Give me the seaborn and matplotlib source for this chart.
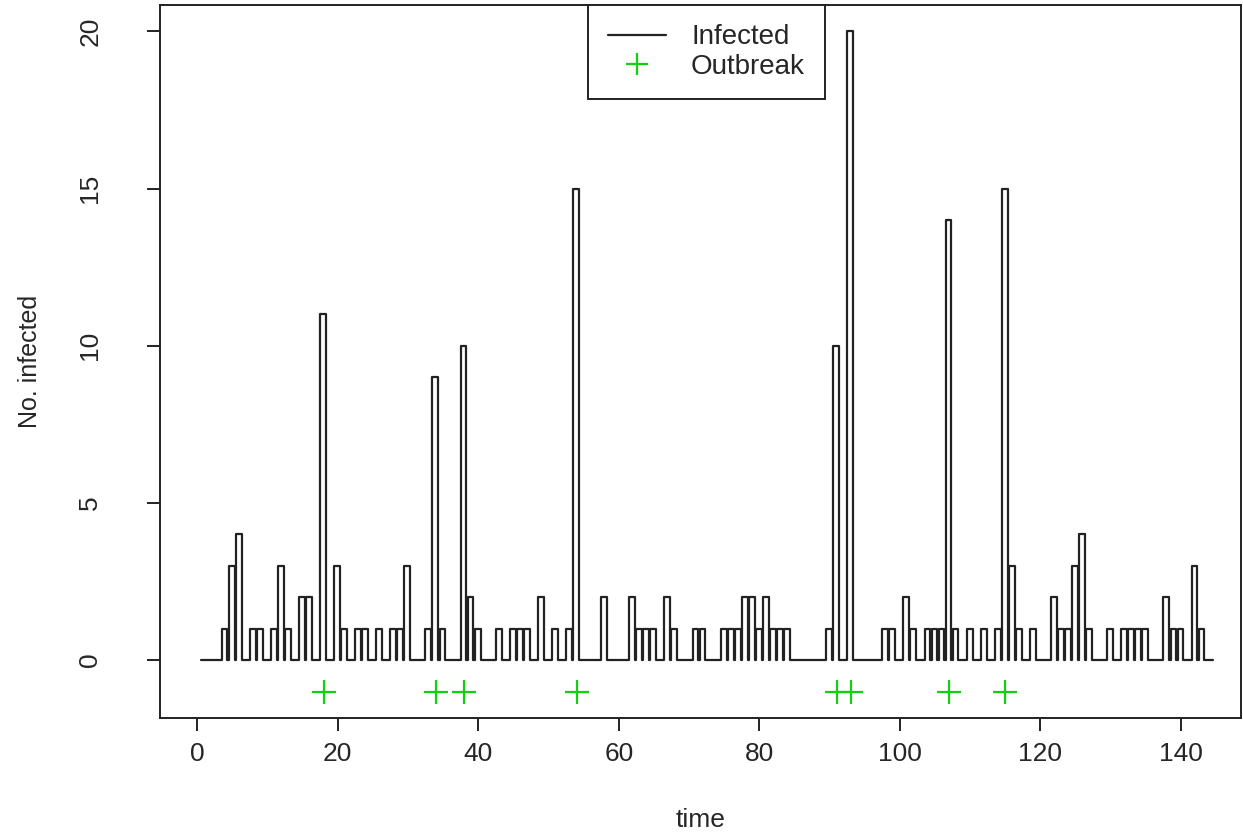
import numpy as np
import pandas as pd
import matplotlib
matplotlib.use("Agg")
import matplotlib.pyplot as plt
import seaborn as sns
from matplotlib.lines import Line2D

# ---- data ----
days = list(range(1, 145))
infected = [0, 0, 0, 1, 3, 4, 0, 1, 1, 0,
            1, 3, 1, 0, 2, 2, 0, 11, 0, 3,
            1, 0, 1, 1, 0, 1, 0, 1, 1, 3,
            0, 0, 1, 9, 1, 0, 0, 10, 2, 1,
            0, 0, 1, 0, 1, 1, 1, 0, 2, 0,
            1, 0, 1, 15, 0, 0, 0, 2, 0, 0,
            0, 2, 1, 1, 1, 0, 2, 1, 0, 0,
            1, 1, 0, 0, 1, 1, 1, 2, 2, 1,
            2, 1, 1, 1, 0, 0, 0, 0, 0, 1,
            10, 0, 20, 0, 0, 0, 0, 1, 1, 0,
            2, 1, 0, 1, 1, 1, 14, 1, 0, 1,
            0, 1, 0, 1, 15, 3, 1, 0, 1, 0,
            0, 2, 1, 1, 3, 4, 1, 0, 0, 1,
            0, 1, 1, 1, 1, 0, 0, 2, 1, 1,
            0, 3, 1, 0]
outbreak_days = [18, 34, 38, 54, 91, 93, 107, 115]
outbreak_level = [-1] * len(outbreak_days)
x_ticks = [0, 20, 40, 60, 80, 100, 120, 140]
y_ticks = [0, 5, 10, 15, 20]

# ---- style ----
GAP = 0.17
LINE_COLOR = "#222222"
GREEN = "#10d010"

# step path: each day's count drawn over its unit cell, dropping briefly to 0 at the end
t_path, y_path = [0.5], [0]
for d, c in zip(days, infected):
    t_path += [d - 0.5, d + 0.5 - GAP]
    y_path += [c, 0]
t_path.append(days[-1] + 0.5)
y_path.append(0)
df = pd.DataFrame({"time": t_path, "infected": y_path})

sns.set_style("white")
plt.rcParams["font.family"] = ["Liberation Sans", "DejaVu Sans"]

W, H = 1243, 833
fig = plt.figure(figsize=(W / 100, H / 100), dpi=100)
ax = fig.add_axes([160 / W, 115 / H, 1081 / W, 713 / H])

sns.lineplot(data=df, x="time", y="infected", drawstyle="steps-post",
             estimator=None, sort=False, color=LINE_COLOR, linewidth=1.6, ax=ax)
sns.scatterplot(x=outbreak_days, y=outbreak_level, marker="+", s=280,
                color=GREEN, linewidth=1.6, ax=ax, zorder=3)

ax.set_xlim(-5.27, 148.53)
ax.set_ylim(-1.84, 20.84)
ax.set_xticks(x_ticks)
ax.set_yticks(y_ticks)
ax.set_xticklabels([str(v) for v in x_ticks], fontsize=19)
ax.set_yticklabels([str(v) for v in y_ticks], fontsize=19, rotation=90, va="center")
ax.tick_params(axis="both", direction="out", length=9.5, width=1.4, color="#222222",
               bottom=True, left=True)
ax.tick_params(axis="x", pad=8)
ax.tick_params(axis="y", pad=32)
ax.set_xlabel("time", fontsize=19, labelpad=30)
ax.set_ylabel("No. infected", fontsize=18, labelpad=26)
for s in ax.spines.values():
    s.set_color("#222222")
    s.set_linewidth(1.4)

handles = [Line2D([0], [0], color=LINE_COLOR, lw=1.6),
           Line2D([0], [0], color=GREEN, lw=0, marker="+", markersize=16, markeredgewidth=1.6)]
leg = ax.legend(handles, ["Infected", "Outbreak"], loc="upper center",
                bbox_to_anchor=(0.5055, 1.0), fontsize=20, frameon=True, fancybox=False,
                framealpha=1, edgecolor="#222222", borderaxespad=0, handlelength=2.1,
                handletextpad=0.9, labelspacing=0.12, borderpad=0.7)
leg.get_frame().set_linewidth(1.4)

fig.savefig("out.png", dpi=100)
